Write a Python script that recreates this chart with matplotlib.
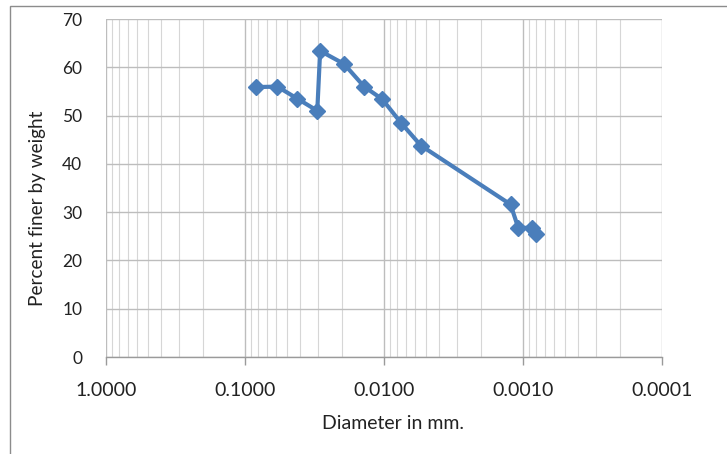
import matplotlib
matplotlib.use("Agg")
import matplotlib.pyplot as plt
from matplotlib.ticker import LogLocator, FixedLocator, FuncFormatter, NullFormatter
from matplotlib.patches import Rectangle

diameter_mm = [0.0827, 0.0585, 0.0420, 0.0302, 0.0288, 0.0194, 0.0139,
               0.0103, 0.00755, 0.00543, 0.00123, 0.00108, 0.000855, 0.00080]
percent_finer = [55.9, 56.0, 53.5, 51.0, 63.4, 60.7, 56.0,
                 53.4, 48.5, 43.8, 31.6, 26.7, 26.8, 25.4]
x_ticks = [1.0, 0.1, 0.01, 0.001, 0.0001]
y_ticks = [0, 10, 20, 30, 40, 50, 60, 70]

plt.rcParams['font.family'] = ['Lato', 'DejaVu Sans']

fig = plt.figure(figsize=(7.27, 4.54), dpi=100)
ax = fig.add_axes([106/727, 1-357/454, (662-106)/727, (357-19)/454])

# outer chart border
fig.patches.append(Rectangle((10/727, -0.1), 1.2, 1 - 6/454 + 0.1, transform=fig.transFigure,
                             fill=False, edgecolor='#8c8c8c', linewidth=1.0))

ax.plot(diameter_mm, percent_finer, color='#4A7EBB', linewidth=3.0,
        marker='D', markersize=8, markerfacecolor='#4A7EBB',
        markeredgecolor='#4A7EBB', solid_joinstyle='round', zorder=3)

ax.set_xscale('log')
ax.set_xlim(1.0, 0.0001)
ax.set_ylim(0, 70)

ax.xaxis.set_major_locator(FixedLocator(x_ticks))
ax.xaxis.set_major_formatter(FuncFormatter(lambda v, p: f"{v:.4f}"))
ax.xaxis.set_minor_locator(LogLocator(base=10, subs=range(2, 10), numticks=20))
ax.xaxis.set_minor_formatter(NullFormatter())
ax.yaxis.set_major_locator(FixedLocator(y_ticks))

ax.grid(True, which='major', axis='both', color='#bdbdbd', linewidth=1.0)
ax.grid(True, which='minor', axis='x', color='#d6d6d6', linewidth=0.8)
ax.set_axisbelow(True)

for s in ['top', 'right', 'left']:
    ax.spines[s].set_visible(False)
ax.spines['bottom'].set_color('#9a9a9a')
ax.spines['bottom'].set_linewidth(1.0)

ax.tick_params(axis='x', which='major', length=6, width=1, color='#9a9a9a',
               labelsize=14, pad=12, labelcolor='#222222')
ax.tick_params(axis='x', which='minor', length=0)
ax.tick_params(axis='y', which='major', length=0,
               labelsize=12.5, pad=17, labelcolor='#222222')

ax.set_xlabel('Diameter in mm.', fontsize=14, color='#222222')
ax.set_ylabel('Percent finer by weight', fontsize=13.7, color='#222222')
ax.xaxis.set_label_coords(0.516, -0.172)
ax.yaxis.set_label_coords(-0.108, 0.44)

fig.savefig('out.png', dpi=100)
